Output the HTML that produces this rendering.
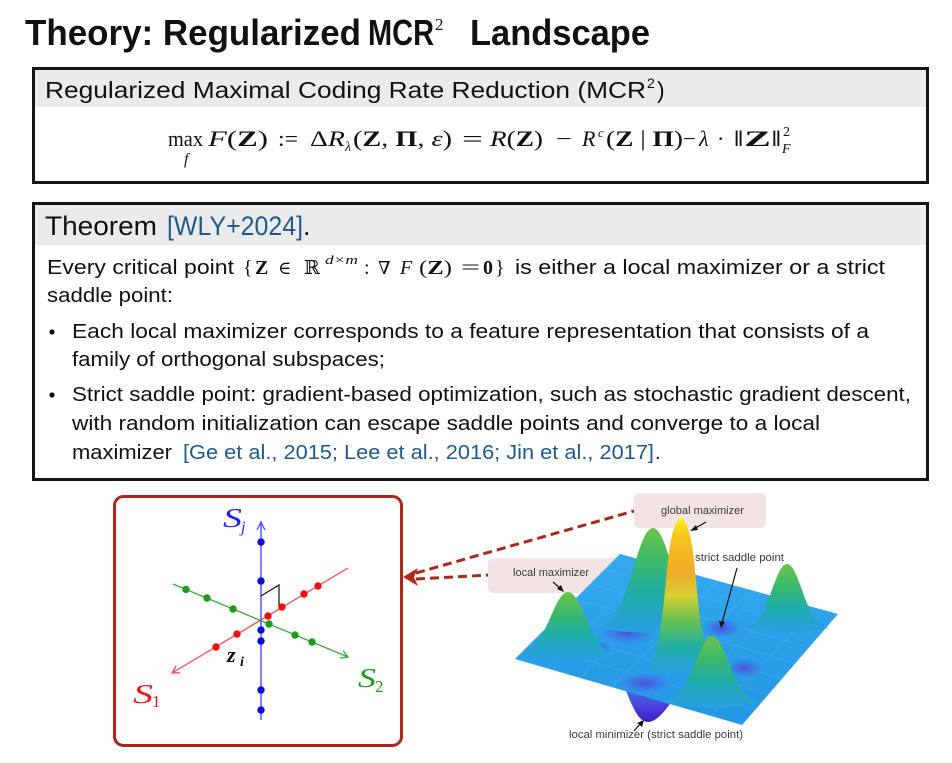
<!DOCTYPE html>
<html><head><meta charset="utf-8"><style>
html,body{margin:0;padding:0;background:#fff;width:952px;height:763px;overflow:hidden}
svg{display:block}
.s{font-family:"Liberation Sans","DejaVu Sans",sans-serif}
.m{font-family:"Liberation Serif","DejaVu Serif",serif}
.d{font-family:"DejaVu Serif","Liberation Serif",serif}
</style></head><body>
<svg width="952" height="763" viewBox="0 0 952 763" xmlns="http://www.w3.org/2000/svg">
<defs>
<linearGradient id="gpk" x1="0" y1="0" x2="0" y2="1">
<stop offset="0" stop-color="#6cc34a"/><stop offset="0.3" stop-color="#3dba68"/><stop offset="0.62" stop-color="#1faea6"/><stop offset="1" stop-color="#28a0e6"/>
</linearGradient>
<linearGradient id="ggl" x1="0" y1="0" x2="0" y2="1">
<stop offset="0" stop-color="#faf020"/><stop offset="0.12" stop-color="#f6c41e"/><stop offset="0.35" stop-color="#f0aa28"/><stop offset="0.5" stop-color="#d6d032"/><stop offset="0.65" stop-color="#6cc24e"/><stop offset="0.82" stop-color="#22b0a2"/><stop offset="1" stop-color="#28a0e6"/>
</linearGradient>
<radialGradient id="dep" cx="0.5" cy="0.5" r="0.5">
<stop offset="0" stop-color="#5046dc" stop-opacity="0.9"/><stop offset="0.6" stop-color="#3f6fe6" stop-opacity="0.5"/><stop offset="1" stop-color="#2a9ee6" stop-opacity="0"/>
</radialGradient>
<linearGradient id="gmin" x1="0" y1="0" x2="0" y2="1">
<stop offset="0" stop-color="#3c6ee8"/><stop offset="0.5" stop-color="#4a40dc"/><stop offset="1" stop-color="#3a22c0"/>
</linearGradient>
<linearGradient id="gbase" x1="0" y1="0" x2="0" y2="1">
<stop offset="0" stop-color="#34a8f0"/><stop offset="1" stop-color="#2398e2"/>
</linearGradient>
<clipPath id="surf"><polygon points="515,659 620,554 838,614 742,725"/></clipPath>
</defs>

<!-- Title -->
<text class="s" x="25" y="45" font-size="36" font-weight="bold" fill="#111" textLength="336" lengthAdjust="spacingAndGlyphs">Theory: Regularized</text>
<text class="s" x="368" y="45" font-size="36" font-weight="bold" fill="#111" textLength="66" lengthAdjust="spacingAndGlyphs">MCR</text>
<text class="m" x="435" y="30" font-size="17" fill="#111">2</text>
<text class="s" x="470" y="45" font-size="36" font-weight="bold" fill="#111" textLength="180" lengthAdjust="spacingAndGlyphs">Landscape</text>

<!-- Box 1 -->
<rect x="33.5" y="68.5" width="894" height="114" fill="#fff" stroke="#151515" stroke-width="3"/>
<rect x="35" y="70" width="891" height="37" fill="#ebebeb"/>
<text class="s" x="45" y="98" font-size="23" fill="#111" textLength="601" lengthAdjust="spacingAndGlyphs">Regularized Maximal Coding Rate Reduction (MCR</text>
<text class="s" x="647" y="88" font-size="14" fill="#111">2</text>
<text class="s" x="657" y="98" font-size="23" fill="#111">)</text>

<!-- formula -->
<g class="m" fill="#111" font-size="22">
<text x="168" y="146" textLength="35" lengthAdjust="spacingAndGlyphs">max</text>
<text x="184" y="164" font-size="16" font-style="italic">f</text>
<text x="208" y="146" textLength="60" lengthAdjust="spacingAndGlyphs"><tspan font-style="italic">F</tspan>(<tspan font-weight="bold">Z</tspan>)</text>
<text x="278" y="146" textLength="20" lengthAdjust="spacingAndGlyphs">:=</text>
<text x="310" y="146" textLength="35" lengthAdjust="spacingAndGlyphs">Δ<tspan font-style="italic">R</tspan></text>
<text x="345" y="151" font-size="14" font-style="italic">λ</text>
<text x="353" y="146" textLength="99" lengthAdjust="spacingAndGlyphs">(<tspan font-weight="bold">Z</tspan>, <tspan font-weight="bold">Π</tspan>, <tspan font-style="italic">ε</tspan>)</text>
<text x="462" y="146" textLength="21" lengthAdjust="spacingAndGlyphs">=</text>
<text x="490" y="146" textLength="53" lengthAdjust="spacingAndGlyphs"><tspan font-style="italic">R</tspan>(<tspan font-weight="bold">Z</tspan>)</text>
<text x="556" y="146" textLength="16" lengthAdjust="spacingAndGlyphs">−</text>
<text x="582" y="146" font-style="italic">R</text>
<text x="598" y="137" font-size="13" font-style="italic">c</text>
<text x="606" y="146" textLength="77" lengthAdjust="spacingAndGlyphs">(<tspan font-weight="bold">Z</tspan> | <tspan font-weight="bold">Π</tspan>)</text>
<text x="683" y="146" textLength="13" lengthAdjust="spacingAndGlyphs">−</text>
<text x="699" y="146" font-style="italic">λ</text>
<text x="717" y="146">·</text>
<text x="733" y="146" textLength="49" lengthAdjust="spacingAndGlyphs">‖<tspan font-weight="bold">Z</tspan>‖</text>
<text x="783" y="136" font-size="14">2</text>
<text x="782" y="153" font-size="14" font-style="italic">F</text>
</g>

<!-- Box 2 -->
<rect x="33.5" y="203.5" width="894" height="276" fill="#fff" stroke="#151515" stroke-width="3"/>
<rect x="35" y="205" width="891" height="40" fill="#ebebeb"/>
<text class="s" x="45" y="235" font-size="27" fill="#111" textLength="112" lengthAdjust="spacingAndGlyphs">Theorem</text>
<text class="s" x="167" y="235" font-size="27" fill="#1f5a8a" textLength="136" lengthAdjust="spacingAndGlyphs">[WLY+2024]</text>
<text class="s" x="303" y="235" font-size="27" fill="#111">.</text>

<g class="s" font-size="20" fill="#111">
<text x="47" y="274" textLength="187" lengthAdjust="spacingAndGlyphs">Every critical point</text>
<text x="515" y="274" textLength="370" lengthAdjust="spacingAndGlyphs">is either a local maximizer or a strict</text>
<text x="47" y="302" textLength="126" lengthAdjust="spacingAndGlyphs">saddle point:</text>
<circle cx="52" cy="332" r="2.6"/>
<text x="72" y="338" textLength="797" lengthAdjust="spacingAndGlyphs">Each local maximizer corresponds to a feature representation that consists of a</text>
<text x="72" y="366" textLength="313" lengthAdjust="spacingAndGlyphs">family of orthogonal subspaces;</text>
<circle cx="52" cy="395" r="2.6"/>
<text x="72" y="401" textLength="839" lengthAdjust="spacingAndGlyphs">Strict saddle point: gradient-based optimization, such as stochastic gradient descent,</text>
<text x="72" y="430" textLength="748" lengthAdjust="spacingAndGlyphs">with random initialization can escape saddle points and converge to a local</text>
<text x="72" y="459" textLength="100" lengthAdjust="spacingAndGlyphs">maximizer</text>
<text x="183" y="459" fill="#1f5a8a" textLength="471" lengthAdjust="spacingAndGlyphs">[Ge et al., 2015; Lee et al., 2016; Jin et al., 2017]</text>
<text x="655" y="459">.</text>
</g>
<!-- line 1 math -->
<g class="m" font-size="20" fill="#111">
<text x="243" y="274">{</text>
<text x="255" y="274" font-weight="bold">Z</text>
<text class="d" x="278" y="274" font-size="18">∈</text>
<text class="d" x="304" y="274" font-size="19">ℝ</text>
<text x="325" y="264" font-size="13" font-style="italic" textLength="33" lengthAdjust="spacingAndGlyphs">d×m</text>
<text x="364" y="274">:</text>
<text class="d" x="378" y="274" font-size="18">∇</text>
<text x="400" y="274" font-style="italic">F</text>
<text x="419" y="274" textLength="33" lengthAdjust="spacingAndGlyphs">(<tspan font-weight="bold">Z</tspan>)</text>
<text x="461" y="274" textLength="19" lengthAdjust="spacingAndGlyphs">=</text>
<text x="483" y="274" font-weight="bold">0</text>
<text x="495" y="274">}</text>
</g>

<!-- Left figure -->
<rect x="114.5" y="496.5" width="287" height="249" rx="9" fill="#fff" stroke="#a8281c" stroke-width="3"/>
<line x1="173" y1="584" x2="348" y2="657" stroke="#38a838" stroke-width="1.3"/>
<polyline points="340,658 348,657 343,650.6" fill="none" stroke="#38a838" stroke-width="1.3"/>
<line x1="172" y1="673" x2="348" y2="568" stroke="#ff4a4a" stroke-width="1.3"/>
<polyline points="180,672.8 172,673 176,666" fill="none" stroke="#ff4a4a" stroke-width="1.3"/>
<line x1="261" y1="523" x2="261" y2="720" stroke="#4a4aff" stroke-width="1.4"/>
<polyline points="257,530 261,522 265,530" fill="none" stroke="#4a4aff" stroke-width="1.3"/>
<polyline points="261,596 279,585 279,607" fill="none" stroke="#111" stroke-width="1.2"/>
<g fill="#1e9a1e">
<circle cx="186" cy="589.4" r="3.7"/><circle cx="207" cy="598" r="3.7"/><circle cx="233" cy="609" r="3.7"/><circle cx="269" cy="624" r="3.7"/><circle cx="295" cy="635" r="3.7"/><circle cx="312" cy="642" r="3.7"/>
</g>
<g fill="#ee1010">
<circle cx="318" cy="586" r="3.7"/><circle cx="304" cy="594" r="3.7"/><circle cx="282" cy="607" r="3.7"/><circle cx="268" cy="616" r="3.7"/><circle cx="237" cy="634" r="3.7"/><circle cx="216" cy="647" r="3.7"/>
</g>
<g fill="#0a0ae0">
<circle cx="261" cy="542" r="3.7"/><circle cx="261" cy="581" r="3.7"/><circle cx="261" cy="630" r="3.7"/><circle cx="261" cy="641" r="3.7"/><circle cx="261" cy="690" r="3.7"/><circle cx="261" cy="710" r="3.7"/>
</g>
<g class="m" font-style="italic">
<text x="223" y="527" font-size="27" fill="#2020ff" textLength="19" lengthAdjust="spacingAndGlyphs">S</text>
<text x="241" y="532" font-size="16" fill="#2020ff">j</text>
<text x="133" y="703" font-size="27" fill="#ee1818" textLength="20" lengthAdjust="spacingAndGlyphs">S</text>
<text x="152" y="707" font-size="17" font-style="normal" fill="#ee1818">1</text>
<text x="358" y="687" font-size="27" fill="#1e9a1e" textLength="18" lengthAdjust="spacingAndGlyphs">S</text>
<text x="375" y="692" font-size="17" font-style="normal" fill="#1e9a1e">2</text>
<text x="227" y="662" font-size="22" font-weight="bold" fill="#111">z</text>
<text x="240" y="666" font-size="14" font-weight="bold" fill="#111">i</text>
</g>

<!-- connector -->
<polygon points="403,577 418,568 414,577 418,586" fill="#b02a1c"/>
<line x1="416" y1="573" x2="634" y2="511" stroke="#a82a1e" stroke-width="3" stroke-dasharray="9 5"/>
<line x1="416" y1="579" x2="489" y2="575" stroke="#a82a1e" stroke-width="3" stroke-dasharray="9 5"/>

<!-- label boxes -->
<rect x="634" y="493" width="132" height="35" rx="5" fill="#f3e4e4"/>
<rect x="488" y="558" width="132" height="35" rx="5" fill="#f3e4e4"/>

<!-- surface -->
<polygon points="515,659 620,554 838,614 742,725" fill="url(#gbase)"/>
<g clip-path="url(#surf)" stroke="#7cc8f4" stroke-opacity="0.25" stroke-width="0.7">
<line x1="515" y1="659" x2="742" y2="725"/><line x1="530" y1="644" x2="757" y2="710"/><line x1="545" y1="629" x2="772" y2="695"/><line x1="560" y1="614" x2="787" y2="680"/><line x1="575" y1="599" x2="802" y2="665"/><line x1="590" y1="584" x2="817" y2="650"/><line x1="605" y1="569" x2="832" y2="635"/>
<line x1="547" y1="668" x2="652" y2="563"/><line x1="580" y1="678" x2="685" y2="573"/><line x1="612" y1="687" x2="717" y2="582"/><line x1="645" y1="697" x2="750" y2="592"/><line x1="677" y1="706" x2="782" y2="601"/><line x1="710" y1="716" x2="815" y2="611"/>
</g>
<ellipse cx="628" cy="632" rx="32" ry="15" fill="url(#dep)"/>
<ellipse cx="722" cy="628" rx="22" ry="11" fill="url(#dep)"/>
<ellipse cx="645" cy="683" rx="30" ry="12" fill="url(#dep)"/>
<ellipse cx="744" cy="668" rx="22" ry="11" fill="url(#dep)"/>
<ellipse cx="598" cy="648" rx="16" ry="8" fill="url(#dep)"/>
<path d="M598,628 C628,628 636,528 653,528 C670,528 678,628 708,628 Q653,638 598,628Z" fill="url(#gpk)"/>
<path d="M648,670 C660,655 664,600 667,570 C670,535 676,518 681,518 C686,518 692,535 695,570 C698,600 702,655 714,670 Q681,678 648,670 Z" fill="url(#ggl)"/>
<path d="M518,655 C545.5,655 553,592 568,592 C583,592 590.5,655 618,655 Q568,665 518,655Z" fill="url(#gpk)"/>
<path d="M745,628 C768,628 774,564 787,564 C800,564 806,628 829,628 Q787,636 745,628Z" fill="url(#gpk)"/>
<path d="M664,702 C690,702 698,636 712,636 C726,636 734,702 760,702 Q712,714 664,702Z" fill="url(#gpk)"/>
<path d="M626,691 L670,704 C664,712 656,722 648,722 C638,722 632,705 626,691 Z" fill="url(#gmin)"/>

<!-- labels -->
<g class="s" font-size="11" fill="#3a3a3a">
<text x="661" y="514" textLength="83" lengthAdjust="spacingAndGlyphs">global maximizer</text>
<text x="513" y="576" textLength="76" lengthAdjust="spacingAndGlyphs">local maximizer</text>
<text x="695" y="561" textLength="89" lengthAdjust="spacingAndGlyphs">strict saddle point</text>
<text x="569" y="738" textLength="174" lengthAdjust="spacingAndGlyphs">local minimizer (strict saddle point)</text>
</g>
<g stroke="#111" stroke-width="1.2" fill="#111">
<line x1="706" y1="522" x2="694" y2="529"/><polygon points="690,531 696,525 698,530" stroke="none"/>
<line x1="553" y1="582" x2="561" y2="589"/><polygon points="564,592 557,589 561,585" stroke="none"/>
<line x1="737" y1="568" x2="722" y2="623"/><polygon points="721,628 719,621 725,622" stroke="none"/>
<line x1="634" y1="731" x2="641" y2="723"/><polygon points="644,720 642,727 637,723" stroke="none"/>
</g>
</svg>
</body></html>
